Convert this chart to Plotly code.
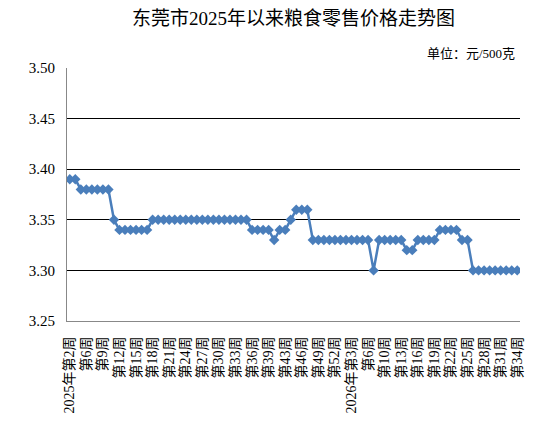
import plotly.graph_objects as go

# weeks (category labels)
weeks_2025 = [2, 3, 4] + list(range(6, 40)) + [41, 42] + list(range(43, 53))
weeks_2026 = [1, 2, 3, 4, 5, 6, 7, 9] + list(range(10, 35))

labels = []
for i, w in enumerate(weeks_2025):
    labels.append(("2025年" if i == 0 else "") + f"第{w}周")
for w in weeks_2026:
    lab = f"第{w}周"
    if w == 3:
        lab = "2026年第3周"
    elif w in (1, 2):
        lab = f"2026年第{w}周 "
    labels.append(lab)
# make 2025 labels unique vs 2026
labels = [l if idx < len(weeks_2025) else l + "\u200b" for idx, l in enumerate(labels)]

prices = ([3.39] * 2 + [3.38] * 6 + [3.35] + [3.34] * 6 + [3.35] * 18 +
          [3.34] * 4 + [3.33] + [3.34] * 2 + [3.35] + [3.36] * 3 +
          [3.33] * 11 + [3.30] + [3.33] * 5 + [3.32] * 2 + [3.33] * 4 +
          [3.34] * 4 + [3.33] * 2 + [3.30] * 9)

y_ticks = [3.25, 3.30, 3.35, 3.40, 3.45, 3.50]

tickvals = labels[::3]
ticktext = [l.replace("\u200b", "") for l in tickvals]

serif = "Liberation Serif, Noto Sans CJK SC, serif"

fig = go.Figure()
fig.add_trace(go.Scatter(
    x=labels, y=prices, mode="lines+markers",
    line=dict(color="#4a7ebb", width=2.5),
    marker=dict(symbol="diamond", size=8, color="#4a7ebb"),
    showlegend=False,
))

fig.update_layout(
    width=537, height=431,
    margin=dict(l=66.5, r=17, t=68, b=109.5, autoexpand=False),
    paper_bgcolor="white", plot_bgcolor="white",
    font=dict(family=serif, color="black"),
    title=dict(text="东莞市2025年以来粮食零售价格走势图", x=0.5, xanchor="center",
               xref="paper", y=1 - 18 / 431, yanchor="middle", yref="container",
               font=dict(size=19, family=serif, color="black")),
    annotations=[dict(text="单位：元/500克", xref="paper", yref="paper",
                      x=0.993, y=1.0, xanchor="right", yanchor="bottom",
                      yshift=5, showarrow=False,
                      font=dict(size=13, family=serif, color="black"))],
)
fig.update_xaxes(
    type="category", categoryorder="array", categoryarray=labels,
    range=[-0.5, len(labels) - 0.5], automargin=False,
    tickmode="array", tickvals=tickvals, ticktext=ticktext,
    tickangle=-90, tickfont=dict(size=14, family=serif, color="black"),
    showgrid=False, showline=True, linecolor="#888888", linewidth=1,
    ticks="", zeroline=False, ticklabelstandoff=9,
)
fig.update_yaxes(
    range=[3.25, 3.50], tickvals=y_ticks, tickformat=".2f", automargin=False,
    tickfont=dict(size=15, family=serif, color="black"),
    showgrid=True, gridcolor="black", gridwidth=1,
    showline=True, linecolor="#888888", linewidth=1,
    ticks="", zeroline=False, ticklabelstandoff=8,
)
fig.write_html("out.html", config={"displayModeBar": False},
               post_script="document.body.style.margin='0';")
